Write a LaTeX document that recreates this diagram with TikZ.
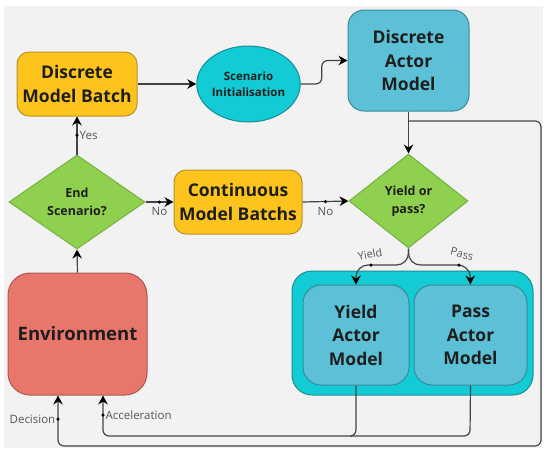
\documentclass[tikz,border=0pt]{standalone}
\usepackage{fontspec}
\setmainfont{Open Sans}
\usetikzlibrary{shapes.geometric,arrows.meta,calc}
\definecolor{bgc}{HTML}{F2F2F2}
\definecolor{yelf}{HTML}{FCC41C}
\definecolor{yeld}{HTML}{B8922A}
\definecolor{grnf}{HTML}{8FD14F}
\definecolor{grnd}{HTML}{74B042}
\definecolor{cyf}{HTML}{12CBD4}
\definecolor{cyd}{HTML}{1A8E97}
\definecolor{blf}{HTML}{5CC1D7}
\definecolor{bld}{HTML}{3A8A9A}
\definecolor{redf}{HTML}{E8766B}
\definecolor{redd}{HTML}{A85A52}
\definecolor{txt}{HTML}{1E1E1E}
\definecolor{lnc}{HTML}{444444}
\definecolor{lbc}{HTML}{555555}
\tikzset{
  box/.style={rectangle, draw, line width=1pt, text=txt, align=center, font=\bfseries\fontsize{17.5}{23.5}\selectfont, inner sep=0pt},
  yelbox/.style={box, fill=yelf, draw=yeld, rounded corners=12pt},
  blubox/.style={box, fill=blf, draw=bld, rounded corners=16pt},
  dia/.style={diamond, draw=grnd, fill=grnf, line width=1pt, text=txt, align=center, inner sep=0pt, font=\bfseries\fontsize{12.5}{18}\selectfont},
  conn/.style={draw=lnc, line width=1.2pt, rounded corners=6pt},
  arr/.style={conn, -{Stealth[length=9pt,width=9.5pt,inset=3pt,black]}},
  lbl/.style={text=lbc, font=\fontsize{11.5}{13}\selectfont, inner sep=1.5pt},
  dotc/.style={circle, fill=black, inner sep=0pt, minimum size=3.5pt}
}
\begin{document}
\begin{tikzpicture}[x=1pt,y=-1pt]
\useasboundingbox (0,0) rectangle (550,456);
\fill[bgc] (4,6) rectangle (543,448);
% container
\node[rectangle, draw=cyd, fill=cyf, line width=1pt, rounded corners=20pt, minimum width=241pt, minimum height=124pt] (cont) at (412.5,333) {};
% nodes
\node[yelbox, minimum width=120pt, minimum height=64pt] (dmb) at (77,84) {Discrete\\Model Batch};
\node[ellipse, draw=cyd, fill=cyf, line width=1pt, minimum width=101pt, minimum height=76pt, inner sep=0pt, align=center, text=txt, font=\bfseries\fontsize{11.5}{16}\selectfont] (si) at (248.5,84) {Scenario\\Initialisation};
\node[blubox, minimum width=121pt, minimum height=101pt] (dam) at (408.5,60.5) {Discrete\\Actor\\Model};
\node[dia, minimum width=136pt, minimum height=94pt] (es) at (77,202) {End\\Scenario?};
\node[yelbox, minimum width=128pt, minimum height=64pt] (cmb) at (238,202) {Continuous\\Model Batchs};
\node[dia, minimum width=119pt, minimum height=94pt] (yp) at (408.5,201) {Yield or\\pass?};
\node[box, fill=redf, draw=redd, rounded corners=22pt, minimum width=139pt, minimum height=122pt, font=\bfseries\fontsize{18.5}{23}\selectfont] (env) at (77.5,334) {Environment};
\node[blubox, rounded corners=18pt, minimum width=106pt, minimum height=100pt] (ya) at (356,335) {Yield\\Actor\\Model};
\node[blubox, rounded corners=18pt, minimum width=113pt, minimum height=100pt] (pa) at (470.5,335) {Pass\\Actor\\Model};
% connectors
\draw[arr] (dmb.east) -- (si.west);
\draw[arr] (si.east) -- ++(21,0) |- (dam.west);
\draw[arr] (dam.south) -- (yp.north);
\coordinate (br) at (dam.south |- 0,121);
\coordinate (dcn) at (58,419);
\draw[arr] (br) -- (541,121) -- (541,446) -- (58,446) -- (dcn) -- (env.south -| dcn);
\node[dotc] at (dcn) {};
\node[lbl, anchor=east] at ($(dcn)+(-1,0)$) {Decision};
\coordinate (acn) at (103,415);
\draw[arr] (ya.south) -- (356,436) -- (103,436) -- (acn) -- (env.south -| acn);
\draw[conn] (pa.south) -- (470,436) -- (350,436);
\node[dotc] at (acn) {};
\node[lbl, anchor=west] at ($(acn)+(1,0)$) {Acceleration};
\draw[arr] (env.north) -- (es.south);
\coordinate (yesd) at (77,135);
\draw[arr] (es.north) -- (dmb.south);
\node[dotc] at (yesd) {};
\node[lbl, anchor=west] at ($(yesd)+(1,0)$) {Yes};
\draw[arr] (es.east) -- (cmb.west);
\node[dotc] (n1) at ($(es.east)!0.5!(cmb.west)$) {};
\node[lbl, anchor=north] at ($(n1)+(0,4)$) {No};
\draw[arr] (cmb.east) -- (yp.west);
\node[dotc] (n2) at ($(cmb.east)!0.5!(yp.west)$) {};
\node[lbl, anchor=north] at ($(n2)+(0,4)$) {No};
\draw[arr, rounded corners=12pt] (yp.south) -- (408.5,265) -- (356,265) -- (ya.north);
\draw[arr, rounded corners=12pt] (yp.south) -- (408.5,265) -- (470,265) -- (pa.north);
\node[dotc] at (371,265) {};
\node[dotc] at (459,265) {};
\node[lbl, rotate=10, font=\fontsize{11}{12}\selectfont] at (370,254) {Yield};
\node[lbl, rotate=-14, font=\fontsize{11}{12}\selectfont] at (462,254) {Pass};
\end{tikzpicture}
\end{document}
